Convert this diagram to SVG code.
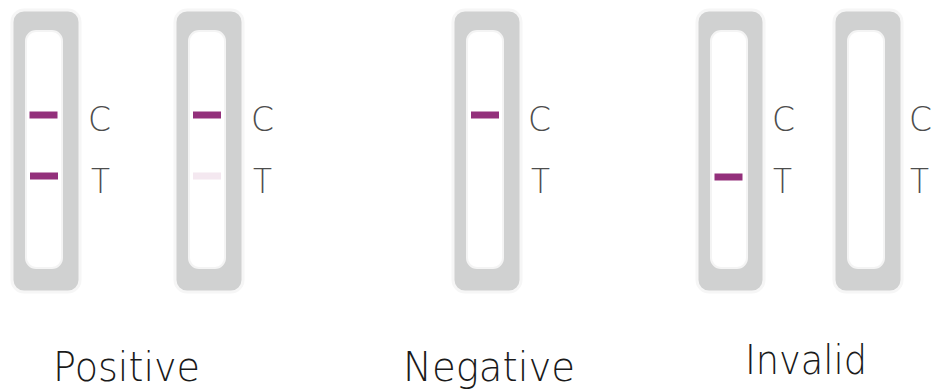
<svg xmlns="http://www.w3.org/2000/svg" width="932" height="389" viewBox="0 0 932 389">
<style>
.outer{fill:#d0d1d1;stroke:#f6f6f6;stroke-width:3}
.inner{fill:#ffffff;stroke:#f4f4f4;stroke-width:2}
.band{fill:#93307b}
.faint{fill:#f4e8f0}
.lbl{font-family:"DejaVu Sans","Lato",sans-serif;font-weight:200;font-size:33px;fill:#4d4d4d}
.cap{font-family:"DejaVu Sans","Lato",sans-serif;font-weight:200;font-size:40px;fill:#1a1a1a}
</style>
<rect width="932" height="389" fill="#ffffff"/>
<g id="strip1">
<rect class="outer" x="12" y="10" width="68" height="282" rx="12"/>
<rect class="inner" x="26" y="31" width="36" height="237" rx="10"/>
<rect class="band" x="29.5" y="111.5" width="28" height="7"/>
<rect class="band" x="30" y="172.5" width="28" height="7"/>
<text class="lbl" x="88" y="131" textLength="23" lengthAdjust="spacingAndGlyphs">C</text>
<text class="lbl" x="91" y="193" textLength="19" lengthAdjust="spacingAndGlyphs">T</text>
</g>
<g id="strip2">
<rect class="outer" x="175" y="10" width="68" height="282" rx="12"/>
<rect class="inner" x="189" y="31" width="36" height="237" rx="10"/>
<rect class="band" x="193" y="111.5" width="28" height="7"/>
<rect class="faint" x="193" y="172.5" width="28" height="7"/>
<text class="lbl" x="251" y="131" textLength="23" lengthAdjust="spacingAndGlyphs">C</text>
<text class="lbl" x="253" y="193" textLength="19" lengthAdjust="spacingAndGlyphs">T</text>
</g>
<g id="strip3">
<rect class="outer" x="453" y="10" width="68" height="282" rx="12"/>
<rect class="inner" x="467" y="31" width="36" height="237" rx="10"/>
<rect class="band" x="471" y="111.5" width="28" height="7"/>
<text class="lbl" x="528" y="131" textLength="23" lengthAdjust="spacingAndGlyphs">C</text>
<text class="lbl" x="531" y="193" textLength="19" lengthAdjust="spacingAndGlyphs">T</text>
</g>
<g id="strip4">
<rect class="outer" x="697" y="10" width="67" height="282" rx="12"/>
<rect class="inner" x="711" y="31" width="36" height="237" rx="10"/>
<rect class="band" x="714.5" y="173.5" width="28" height="7"/>
<text class="lbl" x="772" y="131" textLength="23" lengthAdjust="spacingAndGlyphs">C</text>
<text class="lbl" x="773" y="193" textLength="19" lengthAdjust="spacingAndGlyphs">T</text>
</g>
<g id="strip5">
<rect class="outer" x="834" y="10" width="68" height="282" rx="12"/>
<rect class="inner" x="848" y="31" width="36" height="237" rx="10"/>
<text class="lbl" x="909" y="131" textLength="23" lengthAdjust="spacingAndGlyphs">C</text>
<text class="lbl" x="910" y="193" textLength="19" lengthAdjust="spacingAndGlyphs">T</text>
</g>
<g id="connectors"></g>
<g id="captions">
<text class="cap" x="53" y="381" textLength="147" lengthAdjust="spacingAndGlyphs">Positive</text>
<text class="cap" x="403" y="381" textLength="172" lengthAdjust="spacingAndGlyphs">Negative</text>
<text class="cap" x="745" y="374" textLength="122" lengthAdjust="spacingAndGlyphs">Invalid</text>
</g>
</svg>
